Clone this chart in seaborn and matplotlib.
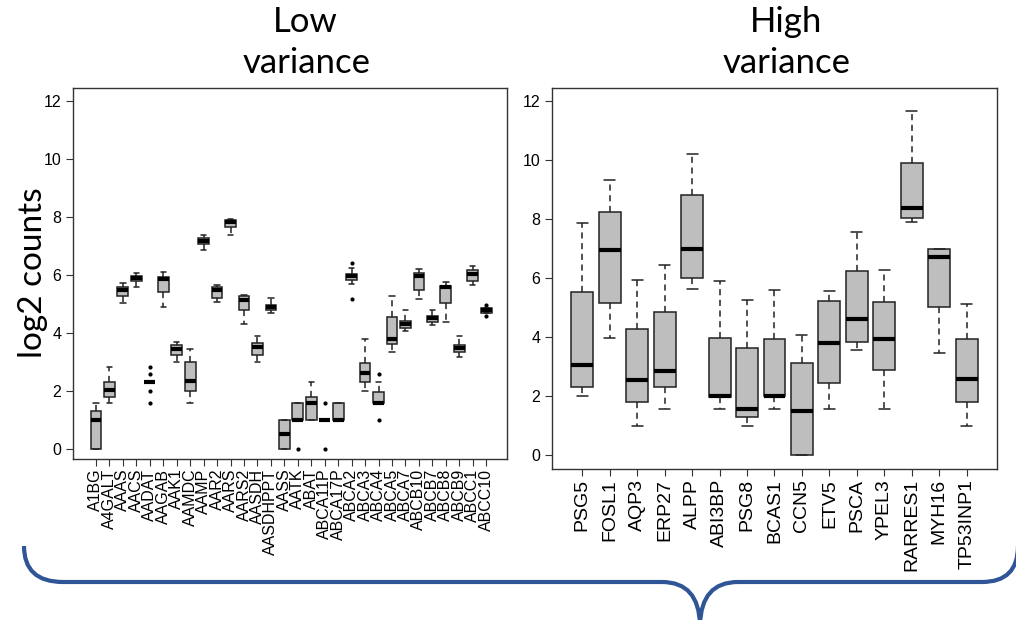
import numpy as np
import pandas as pd
import matplotlib.pyplot as plt
from matplotlib.path import Path
from matplotlib.patches import PathPatch
import seaborn as sns

# low variance genes: five-number summaries
low_genes = ["A1BG", "A4GALT", "AAAS", "AACS", "AADAT", "AAGAB", "AAK1", "AAMDC",
             "AAMP", "AAR2", "AARS", "AARS2", "AASDH", "AASDHPPT", "AASS", "AATK",
             "ABAT", "ABCA11P", "ABCA17P", "ABCA2", "ABCA3", "ABCA4", "ABCA5", "ABCA7",
             "ABCB10", "ABCB7", "ABCB8", "ABCB9", "ABCC1", "ABCC10"]
low_min = [0.0, 1.6, 5.05, 5.6, 2.32, 4.9, 2.99, 1.58, 6.86, 5.06, 7.39, 4.31, 3.01, 4.68, 0.0,
           1.0, 1.0, 1.0, 1.0, 5.69, 2.0, 1.57, 3.33, 4.08, 5.18, 4.26, 4.39, 3.16, 5.64, 4.69]
low_q1 = [0.0, 1.78, 5.27, 5.79, 2.32, 5.43, 3.24, 2.0, 7.08, 5.2, 7.66, 4.78, 3.24, 4.8, 0.0,
          1.0, 1.0, 1.0, 1.0, 5.84, 2.32, 1.57, 3.62, 4.18, 5.49, 4.37, 5.04, 3.33, 5.78, 4.69]
low_med = [1.0, 2.03, 5.47, 5.89, 2.32, 5.87, 3.45, 2.35, 7.19, 5.48, 7.83, 5.14, 3.51, 4.9, 0.5,
           1.0, 1.59, 1.0, 1.0, 5.96, 2.62, 1.6, 3.79, 4.31, 5.96, 4.51, 5.58, 3.47, 6.04, 4.78]
low_q3 = [1.3, 2.32, 5.6, 5.96, 2.32, 5.95, 3.59, 3.01, 7.29, 5.58, 7.91, 5.27, 3.64, 4.98, 1.0,
          1.58, 1.78, 1.0, 1.58, 6.04, 2.95, 1.95, 4.54, 4.43, 6.08, 4.6, 5.61, 3.59, 6.18, 4.86]
low_max = [1.6, 2.81, 5.73, 6.07, 2.32, 6.1, 3.7, 3.45, 7.4, 5.67, 7.93, 5.32, 3.89, 5.21, 1.0,
           1.58, 2.32, 1.0, 1.58, 6.25, 3.79, 2.32, 5.29, 4.79, 6.22, 4.8, 5.76, 3.91, 6.3, 4.86]

# outlying points (gene, value)
low_out_gene = ["AADAT", "AADAT", "AADAT", "AADAT", "AATK", "ABCA11P", "ABCA11P",
                "ABCA2", "ABCA2", "ABCA4", "ABCA4", "ABCC10", "ABCC10"]
low_out_val = [2.81, 2.58, 2.0, 1.58, 0.0, 1.58, 0.0, 6.41, 5.16, 2.58, 1.0, 4.98, 4.6]

# high variance genes
high_genes = ["PSG5", "FOSL1", "AQP3", "ERP27", "ALPP", "ABI3BP", "PSG8", "BCAS1",
              "CCN5", "ETV5", "PSCA", "YPEL3", "RARRES1", "MYH16", "TP53INP1"]
high_min = [2.0, 3.98, 1.0, 1.58, 5.63, 1.58, 1.0, 1.58, 0.0, 1.58, 3.58, 1.58, 7.91, 3.45, 0.99]
high_q1 = [2.32, 5.14, 1.79, 2.32, 5.99, 1.98, 1.28, 2.0, 0.0, 2.45, 3.84, 2.88, 8.02, 5.03, 1.79]
high_med = [3.05, 6.96, 2.55, 2.86, 7.0, 2.0, 1.58, 2.0, 1.5, 3.81, 4.63, 3.93, 8.36, 6.72, 2.58]
high_q3 = [5.54, 8.25, 4.28, 4.84, 8.8, 3.98, 3.62, 3.92, 3.11, 5.22, 6.25, 5.2, 9.91, 7.0, 3.95]
high_max = [7.88, 9.31, 5.95, 6.44, 10.2, 5.9, 5.25, 5.59, 4.08, 5.57, 7.56, 6.27, 11.66, 7.0, 5.11]


def long_table(genes, *cols):
    rows = []
    for i, g in enumerate(genes):
        for c in cols:
            rows.append((g, c[i]))
    return pd.DataFrame(rows, columns=["gene", "value"])


def draw_boxes(ax, genes, df, out_gene=None, out_val=None):
    sns.boxplot(data=df, x="gene", y="value", order=genes, ax=ax,
                color="#BEBEBE", saturation=1, linecolor="#222222", linewidth=1.1,
                width=0.8, showfliers=False,
                whiskerprops=dict(linestyle=(0, (4, 3))),
                medianprops=dict(linewidth=3, color="black"))
    if out_gene:
        sns.stripplot(x=out_gene, y=out_val, order=genes, jitter=False,
                      color="black", size=3, ax=ax)
    ax.set_yticks(range(0, 13, 2))
    ax.set_xlabel("")
    ax.set_ylabel("")
    ax.tick_params(axis="x", rotation=90, length=5, width=0.8, color="#333333",
                   labelcolor="black")
    ax.tick_params(axis="y", length=5, width=0.8, color="#333333", labelsize=11.5,
                   labelcolor="black")
    for s in ax.spines.values():
        s.set_visible(True)
        s.set_color("#333333")
        s.set_linewidth(1)


sns.set_theme(style="ticks")
plt.rcParams["font.family"] = ["Liberation Sans", "DejaVu Sans"]

fig = plt.figure(figsize=(10.16, 6.2), dpi=100)
ax1 = fig.add_axes([0.0719, 0.2597, 0.4272, 0.598])
ax2 = fig.add_axes([0.5433, 0.2435, 0.438, 0.6145])

draw_boxes(ax1, low_genes, long_table(low_genes, low_min, low_q1, low_med, low_q3, low_max),
           low_out_gene, low_out_val)
ax1.set_xlim(-1.7, 30.55)
ax1.set_ylim(-0.35, 12.45)
ax1.tick_params(axis="x", labelsize=11.5, pad=2)

draw_boxes(ax2, high_genes, long_table(high_genes, high_min, high_q1, high_med, high_q3, high_max))
ax2.set_xlim(-1.1, 15.1)
ax2.set_ylim(-0.47, 12.44)
ax2.tick_params(axis="x", labelsize=14, pad=2)

title_font = ["Lato", "DejaVu Sans"]
title_kw = dict(ha="center", va="center", fontsize=25, family=title_font,
                weight="normal", color="black")
fig.text(0.300, 0.965, "Low", **title_kw)
fig.text(0.302, 0.898, "variance", **title_kw)
fig.text(0.774, 0.965, "High", **title_kw)
fig.text(0.774, 0.898, "variance", **title_kw)
fig.text(0.032, 0.56, "log2 counts", ha="center", va="center", rotation=90,
         fontsize=24, family=title_font, weight="normal", color="black")

# curly brace under both panels (pixel coords, y from top)
W, H = 1016, 620
pts = [(24, 546), (24, 582), (63, 582), (662, 582), (699, 582), (700, 625),
       (701, 582), (738, 582), (982, 582), (1018, 582), (1018, 546)]
codes = [Path.MOVETO, Path.CURVE3, Path.CURVE3, Path.LINETO, Path.CURVE3, Path.CURVE3,
         Path.CURVE3, Path.CURVE3, Path.LINETO, Path.CURVE3, Path.CURVE3]
verts = [(x / W, 1 - y / H) for x, y in pts]
brace = PathPatch(Path(verts, codes), transform=fig.transFigure, fill=False,
                  edgecolor="#2F5597", linewidth=3, capstyle="butt", clip_on=False)
fig.patches.append(brace)

fig.savefig("out.png", dpi=100)
